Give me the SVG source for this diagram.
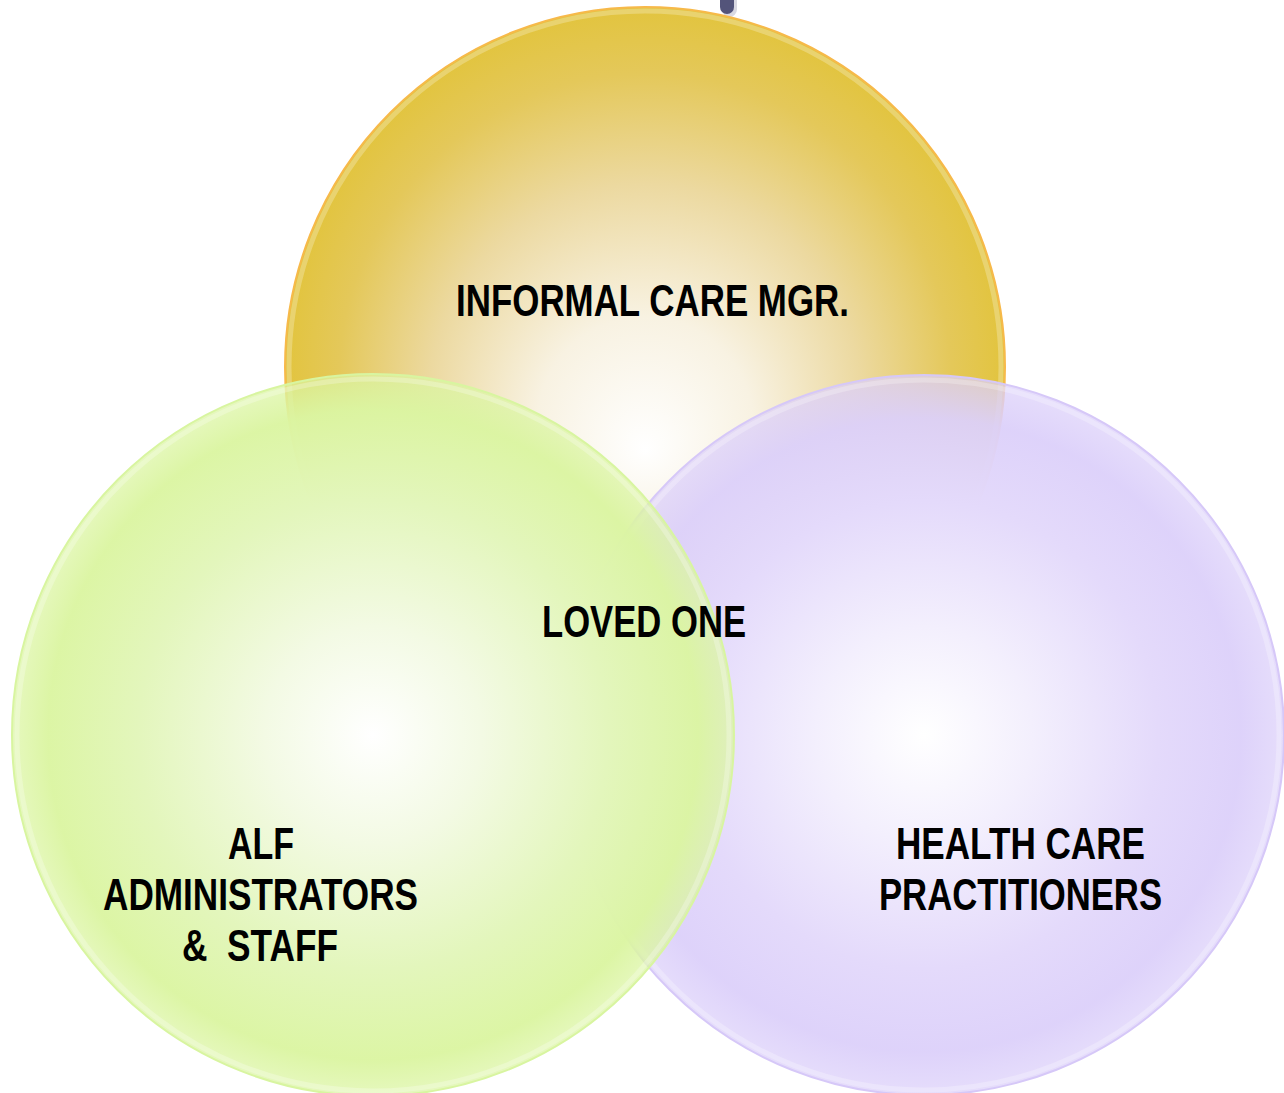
<svg xmlns="http://www.w3.org/2000/svg" width="1284" height="1093" viewBox="0 0 1284 1093">
<style>
.lbl{font-family:"Liberation Sans","Arial",sans-serif;font-weight:bold;font-size:45px;fill:#000;}
.rim{fill:none;stroke:#ffffff;stroke-opacity:0.25;stroke-width:5;}
</style>
<defs>
<radialGradient id="gY" gradientUnits="userSpaceOnUse" cx="645" cy="367" r="360" fx="645" fy="450">
<stop offset="0" stop-color="#ffffff"/>
<stop offset="0.3" stop-color="#f8f2e2"/>
<stop offset="0.6" stop-color="#ecd9a0"/>
<stop offset="0.85" stop-color="#e4c85a"/>
<stop offset="1" stop-color="#e2c43e"/>
</radialGradient>
<radialGradient id="gG" gradientUnits="userSpaceOnUse" cx="373" cy="735" r="361">
<stop offset="0" stop-color="#ffffff"/>
<stop offset="0.3" stop-color="#f3fae4"/>
<stop offset="0.65" stop-color="#e3f6bc"/>
<stop offset="0.9" stop-color="#dbf5a2" stop-opacity="0.97"/>
<stop offset="1" stop-color="#dbf5a2" stop-opacity="0.7"/>
</radialGradient>
<radialGradient id="gP" gradientUnits="userSpaceOnUse" cx="924" cy="735" r="360">
<stop offset="0" stop-color="#ffffff"/>
<stop offset="0.3" stop-color="#f3effd"/>
<stop offset="0.65" stop-color="#e4dafb"/>
<stop offset="0.88" stop-color="#dcd0fa" stop-opacity="0.95"/>
<stop offset="1" stop-color="#dcd0fa" stop-opacity="0.72"/>
</radialGradient>
</defs>
<rect width="1284" height="1093" fill="#ffffff"/>
<g id="marker-top">
<rect x="722" y="-12" width="15" height="29" rx="7.5" fill="#d9d9e2"/>
<rect x="720" y="-14" width="14" height="28" rx="7" fill="#53547a"/>
</g>
<g id="node-informal">
<circle cx="645" cy="367" r="360" fill="url(#gY)" stroke="#f7b94a" stroke-width="2"/>
<circle cx="645" cy="367" r="356" class="rim"/>
</g>
<g id="node-health">
<circle cx="924" cy="735" r="360" fill="url(#gP)" stroke="#d6c8f8" stroke-width="2"/>
<circle cx="924" cy="735" r="355" class="rim"/>
</g>
<g id="node-alf">
<circle cx="373" cy="735" r="361" fill="url(#gG)" stroke="#d8f5a0" stroke-width="2"/>
<circle cx="373" cy="735" r="356" class="rim"/>
</g>
<g id="connectors"></g>
<g id="labels">
<text class="lbl" x="456" y="316" textLength="393" lengthAdjust="spacingAndGlyphs">INFORMAL CARE MGR.</text>
<text class="lbl" x="542" y="637" textLength="204" lengthAdjust="spacingAndGlyphs">LOVED ONE</text>
<text class="lbl" x="228" y="859" textLength="66" lengthAdjust="spacingAndGlyphs">ALF</text>
<text class="lbl" x="103" y="910" textLength="315" lengthAdjust="spacingAndGlyphs">ADMINISTRATORS</text>
<text class="lbl" x="182" y="961" textLength="156" lengthAdjust="spacingAndGlyphs" xml:space="preserve" style="white-space:pre">&amp;  STAFF</text>
<text class="lbl" x="896" y="859" textLength="249" lengthAdjust="spacingAndGlyphs">HEALTH CARE</text>
<text class="lbl" x="879" y="910" textLength="283" lengthAdjust="spacingAndGlyphs">PRACTITIONERS</text>
</g>
</svg>
